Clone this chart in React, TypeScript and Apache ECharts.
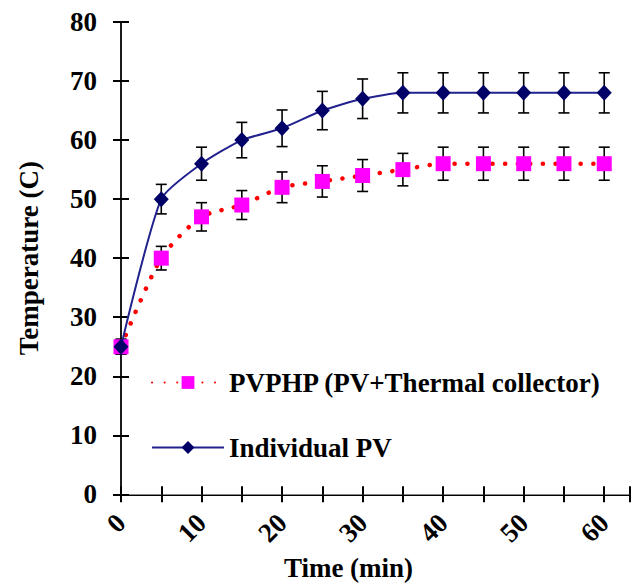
import React, { useEffect, useRef } from "react";
import * as echarts from "echarts";

const times = [0, 5, 10, 15, 20, 25, 30, 35, 40, 45, 50, 55, 60];
const pvphp = [25, 40, 47, 49, 52, 53, 54, 55, 56, 56, 56, 56, 56];
const pvphpErr = [1.25, 2, 2.4, 2.45, 2.6, 2.65, 2.7, 2.75, 2.8, 2.8, 2.8, 2.8, 2.8];
const individual = [25, 50, 56, 60, 62, 65, 67, 68, 68, 68, 68, 68, 68];
const individualErr = [1.25, 2.5, 2.8, 3, 3.1, 3.25, 3.35, 3.4, 3.4, 3.4, 3.4, 3.4, 3.4];
const yTicks = { min: 0, max: 80, interval: 10 };
const xTicks = { min: 0, max: 63.2, interval: 5, labelEvery: 10 };
const seriesNames = ["PVPHP (PV+Thermal collector)", "Individual PV"];

const FONT = "Liberation Serif";

export default function App() {
  const ref = useRef<HTMLDivElement>(null);
  useEffect(() => {
    document.body.style.margin = "0";
    if (!ref.current) return;
    const chart = echarts.init(ref.current, undefined, { renderer: "svg" });

    const errData = (vals: number[], errs: number[]) =>
      times.map((t, i) => [t, vals[i] - errs[i], vals[i] + errs[i]]);

    const renderErr = (params: any, api: any) => {
      const x = api.value(0);
      const lo = api.coord([x, api.value(1)]);
      const hi = api.coord([x, api.value(2)]);
      const w = 5.5;
      const style = { stroke: "#000", lineWidth: 1.6 };
      return {
        type: "group",
        children: [
          { type: "line", shape: { x1: hi[0], y1: hi[1], x2: lo[0], y2: lo[1] }, style },
          { type: "line", shape: { x1: hi[0] - w, y1: hi[1], x2: hi[0] + w, y2: hi[1] }, style },
          { type: "line", shape: { x1: lo[0] - w, y1: lo[1], x2: lo[0] + w, y2: lo[1] }, style },
        ],
      };
    };

    const labelStyle = { fontFamily: FONT, fontWeight: "bold" as const, fontSize: 27, color: "#000" };

    const baseX = { type: "value", min: xTicks.min, max: xTicks.max, interval: xTicks.interval, splitLine: { show: false } };
    const baseY = { type: "value", min: yTicks.min, max: yTicks.max, interval: yTicks.interval, splitLine: { show: false } };

    chart.setOption({
      animation: false,
      backgroundColor: "#fff",
      textStyle: { fontFamily: FONT, fontWeight: "bold" },
      grid: { left: 121, right: 5, top: 22, bottom: 84, show: false },
      legend: {
        data: seriesNames,
        orient: "vertical",
        left: 146,
        top: 364,
        itemWidth: 72,
        itemHeight: 16,
        itemGap: 38,
        formatter: "{s|{name}}",
        textStyle: {
          fontFamily: FONT,
          fontWeight: "bold",
          fontSize: 27,
          color: "#000",
          rich: { s: { fontFamily: FONT, fontWeight: "bold", fontSize: 27, color: "#000" } },
        },
      },
      xAxis: [
        {
          ...baseX,
          position: "bottom",
          name: "Time (min)",
          nameLocation: "middle",
          nameGap: 57,
          nameTextStyle: { ...labelStyle, padding: [0, 54, 0, 0] },
          axisLine: { show: true, lineStyle: { color: "#000", width: 2 } },
          axisTick: { show: true, length: 8, lineStyle: { color: "#000", width: 2 } },
          axisLabel: {
            ...labelStyle,
            rotate: 45,
            margin: 24,
            formatter: (v: number) => (v % xTicks.labelEvery === 0 ? String(v) : ""),
          },
        },
        {
          ...baseX,
          position: "bottom",
          axisLine: { show: false },
          axisTick: { show: true, inside: true, length: 8, lineStyle: { color: "#000", width: 2 } },
          axisLabel: { show: false },
        },
        {
          ...baseX,
          position: "top",
          axisLine: { show: true, lineStyle: { color: "#888", width: 1.2 } },
          axisTick: { show: false },
          axisLabel: { show: false },
        },
      ],
      yAxis: [
        {
          ...baseY,
          position: "left",
          name: "Temperature (C)",
          nameLocation: "middle",
          nameGap: 79,
          nameTextStyle: labelStyle,
          axisLine: { show: true, lineStyle: { color: "#000", width: 2 } },
          axisTick: { show: true, length: 8, lineStyle: { color: "#000", width: 2 } },
          axisLabel: { ...labelStyle, margin: 24 },
        },
        {
          ...baseY,
          position: "left",
          axisLine: { show: false },
          axisTick: { show: true, inside: true, length: 8, lineStyle: { color: "#000", width: 2 } },
          axisLabel: { show: false },
        },
        {
          ...baseY,
          position: "right",
          axisLine: { show: true, lineStyle: { color: "#222", width: 1.6 } },
          axisTick: { show: false },
          axisLabel: { show: false },
        },
      ],
      series: [
        {
          type: "custom",
          name: "errPVPHP",
          renderItem: renderErr,
          data: errData(pvphp, pvphpErr),
          encode: { x: 0, y: [1, 2] },
          z: 1,
          silent: true,
        },
        {
          type: "custom",
          name: "errIndividual",
          renderItem: renderErr,
          data: errData(individual, individualErr),
          encode: { x: 0, y: [1, 2] },
          z: 1,
          silent: true,
        },
        {
          type: "line",
          name: seriesNames[0],
          data: times.map((t, i) => [t, pvphp[i]]),
          smooth: 0.25,
          symbol: "rect",
          symbolSize: 15,
          itemStyle: { color: "#ff00ff" },
          lineStyle: { color: "#ff0000", width: 4.5, type: [0.1, 12.5], cap: "round" },
          z: 3,
        },
        {
          type: "line",
          name: seriesNames[1],
          data: times.map((t, i) => [t, individual[i]]),
          smooth: 0.2,
          symbol: "diamond",
          symbolSize: [15, 16],
          itemStyle: { color: "#000066" },
          lineStyle: { color: "#22228f", width: 2 },
          z: 4,
        },
      ],
    });
    return () => chart.dispose();
  }, []);
  return <div ref={ref} style={{ width: 635, height: 586 }} />;
}
